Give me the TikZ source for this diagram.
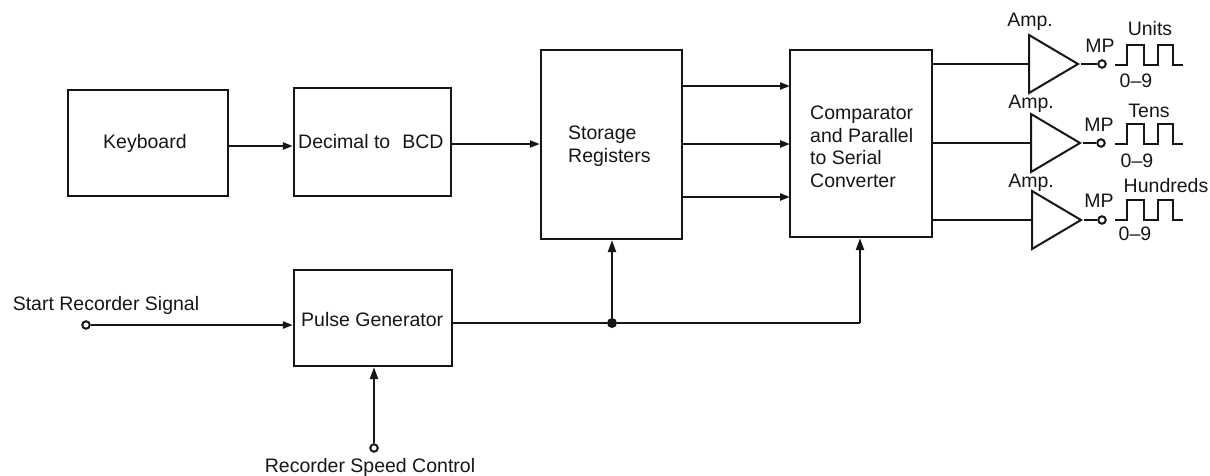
\documentclass[tikz,border=0pt]{standalone}
\usepackage{fontspec}
\setmainfont{Liberation Sans}
\usetikzlibrary{shapes.geometric,arrows.meta}
\definecolor{ink}{HTML}{161616}
\tikzset{
  x=1pt,y=-1pt,
  every node/.style={text=ink,font=\fontsize{19.5}{22.5}\selectfont,inner sep=0pt},
  blockbox/.style={draw=ink,line width=2.3pt,rectangle},
  amp/.style={draw=ink,line width=2pt,isosceles triangle,isosceles triangle stretches,shape border rotate=0,minimum width=58pt,minimum height=49pt,anchor=west,inner sep=0pt},
  term/.style={draw=ink,line width=2pt,circle,fill=white,minimum size=7.5pt},
  wire/.style={draw=ink,line width=2.2pt},
  flow/.style={wire,-{Triangle[length=10pt,width=7pt]}},
  vflow/.style={wire,-{Triangle[length=12pt,width=8pt]}},
  wave/.style={draw=ink,line width=2.1pt},
  lab/.style={},
  boxtext/.style={align=left,anchor=west},
}
\begin{document}
\begin{tikzpicture}
\useasboundingbox (0,0) rectangle (1210,475);
\node[blockbox,minimum width=160pt,minimum height=106pt] (kb) at (148,143) {};
\node[blockbox,minimum width=157pt,minimum height=108pt] (dec) at (372.5,142) {};
\node[blockbox,minimum width=141pt,minimum height=189pt] (sto) at (611.5,144.5) {};
\node[blockbox,minimum width=142pt,minimum height=187pt] (cmp) at (861,143.5) {};
\node[blockbox,minimum width=158pt,minimum height=96pt] (pg) at (373,318) {};
\node[boxtext] (kbt) at (103,143) {Keyboard};
\node[boxtext] (dect) at (298,142) {Decimal to\hspace{0.62em}BCD};
\node[boxtext] (stot) at (568,146) {Storage\\Registers};
\node[boxtext] (cmpt) at (810,147) {Comparator\\and Parallel\\to Serial\\Converter};
\node[boxtext] (pgt) at (301,320) {Pulse Generator};
\node[amp] (a1) at (1028,64) {};
\node[amp] (a2) at (1030,143) {};
\node[amp] (a3) at (1031,220) {};
\node[term] (t1) at (1102,64) {};
\node[term] (t2) at (1101,143) {};
\node[term] (t3) at (1102,220) {};
\node[term] (start) at (86,325) {};
\node[term] (speed) at (374,448) {};
\node[circle,fill=ink,minimum size=10pt] (j) at (612,323) {};
\coordinate (s1) at (790,86);
\coordinate (s2) at (790,144);
\coordinate (s3) at (790,197);
\coordinate (cin) at (860,323);
\draw[flow] (kb.east |- 0,146) -- (dec.west |- 0,146);
\draw[flow] (dec.east |- 0,144) -- (sto.west |- 0,144);
\draw[flow] (sto.east |- s1) -- (s1);
\draw[flow] (sto.east |- s2) -- (s2);
\draw[flow] (sto.east |- s3) -- (s3);
\draw[flow] (start) -- (pg.west |- start);
\draw[vflow] (speed) -- (pg.south -| speed);
\draw[wire] (pg.east |- cin) -- (j) -- (cin);
\draw[vflow] (j) -- (j |- sto.south);
\draw[vflow] (cin) -- (cin |- cmp.south);
\draw[wire] (cmp.east |- a1.west) -- (a1.west);
\draw[wire] (cmp.east |- a2.west) -- (a2.west);
\draw[wire] (cmp.east |- a3.west) -- (a3.west);
\draw[wire] (a1.east) -- (t1);
\draw[wire] (a2.east) -- (t2);
\draw[wire] (a3.east) -- (t3);
\foreach \y in {65,144,220}{
  \draw[wave] (1115,\y) -- (1127,\y) -- (1127,\y-20) -- (1144,\y-20) -- (1144,\y) -- (1158,\y) -- (1158,\y-20) -- (1173,\y-20) -- (1173,\y) -- (1183,\y);
}
\node[lab] (amp1) at (1030,22) {Amp.};
\node[lab] (amp2) at (1031,104) {Amp.};
\node[lab] (amp3) at (1031,183) {Amp.};
\node[lab] (mp1) at (1100,46) {MP};
\node[lab] (mp2) at (1099,125) {MP};
\node[lab] (mp3) at (1099,201) {MP};
\node[lab] (u) at (1150,29) {Units};
\node[lab] (te) at (1149,111) {Tens};
\node[lab] (hu) at (1166,186) {Hundreds};
\node[lab] (n1) at (1136,81) {0--9};
\node[lab] (n2) at (1137,161) {0--9};
\node[lab] (n3) at (1135,234) {0--9};
\node[lab] (st) at (106,305) {Start Recorder Signal};
\node[lab] (rs) at (370,467) {Recorder Speed Control};
\end{tikzpicture}
\end{document}
